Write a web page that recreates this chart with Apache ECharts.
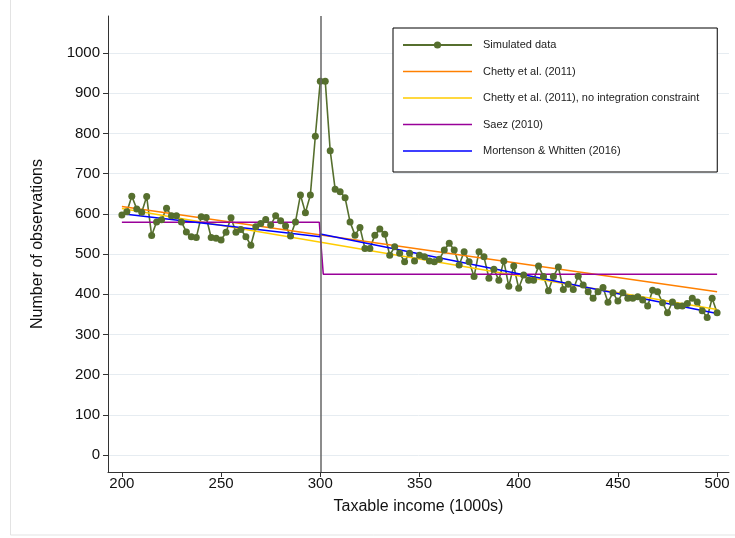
<!DOCTYPE html>
<html>
<head>
<meta charset="utf-8">
<script src="https://cdn.jsdelivr.net/npm/echarts@6/dist/echarts.min.js"></script>
<style>html,body{margin:0;padding:0;background:#fff}#c{width:735px;height:538px}</style>
</head>
<body>
<div id="c"></div>
<script>
// ---- data ----
const xStart = 200, xStep = 2.5;
const simulated = [
  597,605,644,612,604,643,546,580,585,614,595,595,580,555,543,541,593,591,541,539,
  535,554,590,554,561,543,522,568,576,586,572,595,583,570,545,580,647,603,647,793,
  930,930,757,661,655,640,580,547,566,514,514,547,562,549,497,518,502,481,502,483,
  497,493,483,481,487,510,527,510,473,506,481,444,506,493,440,462,435,483,420,470,
  415,448,435,435,470,444,409,444,468,412,425,412,445,423,406,390,406,417,380,404,
  383,404,390,390,394,386,371,410,406,379,354,381,371,371,377,390,381,359,342,390,354
];
const chettyX = [200, 500], chettyY = [618, 406];
const chettyNicX = [200, 500], chettyNicY = [613, 362];
const saezX = [200, 299.5, 301.5, 500], saezY = [579, 579, 450, 450];
const mwX = [200, 300, 300, 500], mwY = [600, 543, 550, 352];
const xTicks = [200, 250, 300, 350, 400, 450, 500];
const yTicks = [0, 100, 200, 300, 400, 500, 600, 700, 800, 900, 1000];
const threshold = 300;
const names = ['Simulated data', 'Chetty et al. (2011)', 'Chetty et al. (2011), no integration constraint', 'Saez (2010)', 'Mortenson & Whitten (2016)'];

const pairs = (xs, ys) => xs.map((x, i) => [x, ys[i]]);
const simData = simulated.map((v, i) => [xStart + i * xStep, v]);

const font = 'Liberation Sans, Arial, Helvetica, sans-serif';
const LINE_W = 69, ICON_H = 9;
const lineIcon = 'path://M0,0L0.01,0L0.01,0.01Z' +
  'M0,' + (ICON_H / 2 - 0.75) + 'L' + LINE_W + ',' + (ICON_H / 2 - 0.75) + 'L' + LINE_W + ',' + (ICON_H / 2 + 0.75) + 'L0,' + (ICON_H / 2 + 0.75) + 'Z' +
  'M' + (LINE_W - 0.01) + ',' + (ICON_H - 0.01) + 'L' + LINE_W + ',' + (ICON_H - 0.01) + 'L' + LINE_W + ',' + ICON_H + 'Z';

const chart = echarts.init(document.getElementById('c'));
chart.setOption({
  animation: false,
  backgroundColor: '#fff',
  textStyle: { fontFamily: font },
  graphic: [{
    type: 'rect', z: -10, silent: true,
    shape: { x: 10.5, y: -1, width: 730, height: 536 },
    style: { fill: 'none', stroke: '#e3e3e3', lineWidth: 1 }
  }],
  grid: { left: 108, right: 6, top: 16, bottom: 66, containLabel: false },
  legend: {
    orient: 'vertical', left: 393, top: 28,
    backgroundColor: '#fff', borderColor: '#000', borderWidth: 1, borderRadius: 0,
    padding: [11.5, 18, 15.5, 9], itemWidth: LINE_W, itemHeight: ICON_H, itemGap: 15.5,
    textStyle: { fontFamily: font, fontSize: 11, color: '#222', padding: [0, 0, 0, 6] },
    data: [
      { name: names[0] },
      { name: names[1], icon: lineIcon },
      { name: names[2], icon: lineIcon },
      { name: names[3], icon: lineIcon },
      { name: names[4], icon: lineIcon }
    ]
  },
  xAxis: {
    type: 'value', min: 193, max: 506,
    name: 'Taxable income (1000s)', nameLocation: 'middle', nameGap: 27,
    nameTextStyle: { fontFamily: font, fontSize: 16, color: '#111' },
    axisLine: { show: true, onZero: false, lineStyle: { color: '#333', width: 1 } },
    axisTick: { show: true, length: 5, customValues: xTicks, lineStyle: { color: '#333' } },
    axisLabel: { customValues: xTicks, fontSize: 15, color: '#111', margin: 4, fontFamily: font,
      formatter: v => String(v) },
    splitLine: { show: false }
  },
  yAxis: {
    type: 'value', min: -42, max: 1092,
    name: 'Number of observations', nameLocation: 'middle', nameGap: 62,
    nameTextStyle: { fontFamily: font, fontSize: 16, color: '#111' },
    axisLine: { show: true, onZero: false, lineStyle: { color: '#333', width: 1 } },
    axisTick: { show: true, length: 5, customValues: yTicks, lineStyle: { color: '#333' } },
    axisLabel: { customValues: yTicks, fontSize: 15, color: '#111', margin: 8, fontFamily: font,
      formatter: v => String(v) },
    splitLine: { show: true, lineStyle: { color: '#e6ecf1', width: 1 } }
  },
  series: [
    { name: names[0], type: 'line', data: simData, color: '#566f2e',
      symbol: 'circle', symbolSize: 7, lineStyle: { width: 1.6, color: '#566f2e' },
      itemStyle: { color: '#566f2e' } },
    { name: names[1], type: 'line', data: pairs(chettyX, chettyY), color: '#ff8000',
      symbol: 'none', lineStyle: { width: 1.5, color: '#ff8000' } },
    { name: names[2], type: 'line', data: pairs(chettyNicX, chettyNicY), color: '#ffcc00',
      symbol: 'none', lineStyle: { width: 1.5, color: '#ffcc00' } },
    { name: names[3], type: 'line', data: pairs(saezX, saezY), color: '#990099',
      symbol: 'none', lineStyle: { width: 1.5, color: '#990099' } },
    { name: names[4], type: 'line', data: pairs(mwX, mwY), color: '#0000ff',
      symbol: 'none', lineStyle: { width: 1.5, color: '#0000ff' },
      markLine: { silent: true, symbol: 'none', label: { show: false },
        lineStyle: { color: '#666', width: 1.5, type: 'solid' },
        data: [{ xAxis: threshold }] } }
  ]
});
</script>
</body>
</html>
